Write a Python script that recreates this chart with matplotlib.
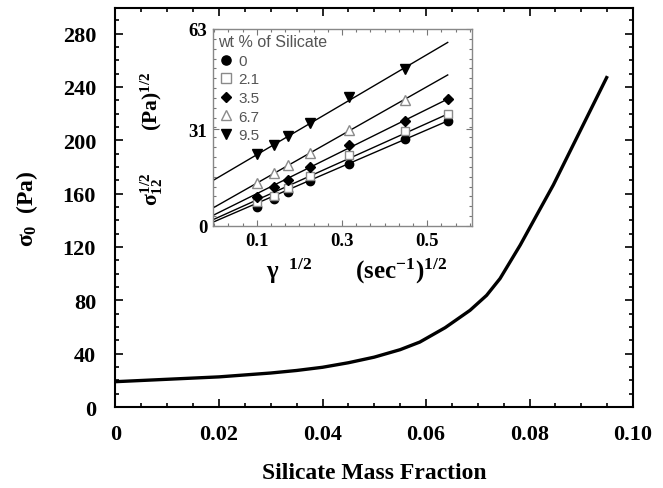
import matplotlib
matplotlib.use("Agg")
import matplotlib.pyplot as plt
from matplotlib.ticker import MultipleLocator, FixedLocator

plt.rcParams["font.family"] = ["Liberation Serif", "DejaVu Serif"]
plt.rcParams["font.weight"] = "bold"
plt.rcParams["axes.labelweight"] = "bold"
plt.rcParams["mathtext.fontset"] = "custom"
plt.rcParams["mathtext.rm"] = "Liberation Serif:bold"
plt.rcParams["mathtext.bf"] = "Liberation Serif:bold"
plt.rcParams["mathtext.it"] = "Liberation Serif:bold"

# ------------------------------
#   Main curve: yield stress vs silicate fraction
# ------------------------------
frac = [0, 0.01, 0.02, 0.03, 0.035, 0.04, 0.045, 0.05, 0.055, 0.0588,
        0.0637, 0.0685, 0.0717, 0.0743, 0.0782, 0.0814, 0.0846, 0.0885,
        0.0917, 0.0949]
sigma0 = [19, 20.8, 22.6, 25.5, 27.4, 29.8, 33.2, 37.4, 43, 48.7,
          59.5, 72.5, 83.7, 96.3, 121.4, 144, 166.5, 197,
          222, 247]

# ------------------------------
#   Inset: sqrt(stress) vs sqrt(shear rate)
# ------------------------------
rate_sqrt = [0.1, 0.141, 0.173, 0.224, 0.316, 0.447, 0.548]
wt_labels = ["0", "2.1", "3.5", "6.7", "9.5"]
s_0 = [6.0, 8.6, 11.0, 14.5, 19.8, 27.8, 33.6]
s_21 = [7.8, 9.6, 12.2, 16.0, 22.8, 30.3, 35.8]
s_35 = [9.4, 12.4, 14.7, 18.8, 26.0, 33.5, 40.6]
s_67 = [13.6, 16.9, 19.6, 23.3, 30.8, 40.4]
s_95 = [23.0, 26.0, 28.9, 32.9, 41.1, 50.2]
series = [s_0, s_21, s_35, s_67, s_95]

# fitted lines, read at x=0 and x=0.548
fit_x = [0.0, 0.548]
fit_0 = [1.4, 33.6]
fit_21 = [2.2, 35.8]
fit_35 = [3.6, 40.6]
fit_67 = [6.0, 48.3]
fit_95 = [14.8, 58.7]
fits = [fit_0, fit_21, fit_35, fit_67, fit_95]

markers = ["o", "s", "D", "^", "v"]
faces = ["black", "white", "black", "white", "black"]
edges = ["black", "#8a8a8a", "black", "#8a8a8a", "black"]
sizes = [6, 6, 5, 7, 7]

fig = plt.figure(figsize=(6.63, 4.89), dpi=100)
ax = fig.add_axes([0.1742, 0.1656, 0.7806, 0.8155])
ax.plot(frac, sigma0, color="black", lw=2.4)
ax.set_xlim(0, 0.1)
ax.set_ylim(0, 299)
ax.set_xticks([0, 0.02, 0.04, 0.06, 0.08, 0.10])
ax.set_xticklabels(["0", "0.02", "0.04", "0.06", "0.08", "0.10"])
ax.set_yticks(range(0, 281, 40))
ax.xaxis.set_minor_locator(MultipleLocator(0.005))
ax.yaxis.set_minor_locator(MultipleLocator(10))
ax.tick_params(which="both", direction="in", top=True, right=True,
               labelsize=16, width=1.2)
ax.tick_params(which="major", length=6)
ax.tick_params(which="minor", length=3)
ax.tick_params(axis="x", pad=12)
ax.tick_params(axis="y", pad=14)
for s in ax.spines.values():
    s.set_linewidth(1.5)
ax.set_xlabel("Silicate Mass Fraction", fontsize=17, labelpad=13)
ax.set_ylabel(r"$\sigma_0$  (Pa)", fontsize=17)
ax.yaxis.set_label_coords(-0.145, 0.5)

# ------------------------------
#   Inset
# ------------------------------
ins = fig.add_axes([0.3213, 0.5358, 0.3906, 0.4029])
for i in range(len(series)):
    ins.plot(fit_x, fits[i], color="black", lw=1.0, zorder=2)
    ins.plot(rate_sqrt[:len(series[i])], series[i], ls="none",
             marker=markers[i], ms=sizes[i], mfc=faces[i], mec=edges[i],
             mew=1.0, label=wt_labels[i], zorder=3)
ins.set_xlim(-0.003, 0.605)
ins.set_ylim(0, 63)
ins.set_xticks([0.1, 0.3, 0.5])
ins.set_xticklabels(["0.1", "0.3", "0.5"])
ins.yaxis.set_major_locator(FixedLocator([0, 31, 63]))
ins.xaxis.set_minor_locator(MultipleLocator(0.1 / 3))
ins.yaxis.set_minor_locator(MultipleLocator(3.15))
ins.tick_params(which="both", direction="in", top=True, right=True,
                labelsize=13.5, color="#777777", width=0.8)
ins.tick_params(which="major", length=4)
ins.tick_params(which="minor", length=2.5)
ins.tick_params(axis="x", pad=4)
ins.tick_params(axis="y", pad=4)
for s in ins.spines.values():
    s.set_color("#888888")
    s.set_linewidth(1.0)
ins.set_xlabel(r"$\gamma^{\ \ 1/2}$       $(\mathrm{sec}^{-1})^{1/2}$",
               fontsize=18)
ins.xaxis.set_label_coords(0.556, -0.15)
ins.set_ylabel(r"$\sigma_{12}^{1/2}$        $(\mathrm{Pa})^{1/2}$", fontsize=15.5)
ins.yaxis.set_label_coords(-0.185, 0.45)

leg = ins.legend(loc="upper left", frameon=False, title="wt % of Silicate",
                 prop={"family": "Liberation Sans", "weight": "normal", "size": 11},
                 handletextpad=0.3, labelspacing=0.3, borderaxespad=0.15,
                 handlelength=1.0, borderpad=0.2, markerscale=1.1)
leg.get_title().set_fontfamily("Liberation Sans")
leg.get_title().set_fontweight("normal")
leg.get_title().set_fontsize(11.5)
leg.get_title().set_color("#555555")
leg._legend_box.align = "left"
for t in leg.get_texts():
    t.set_color("#555555")

fig.savefig("out.png", dpi=100)
